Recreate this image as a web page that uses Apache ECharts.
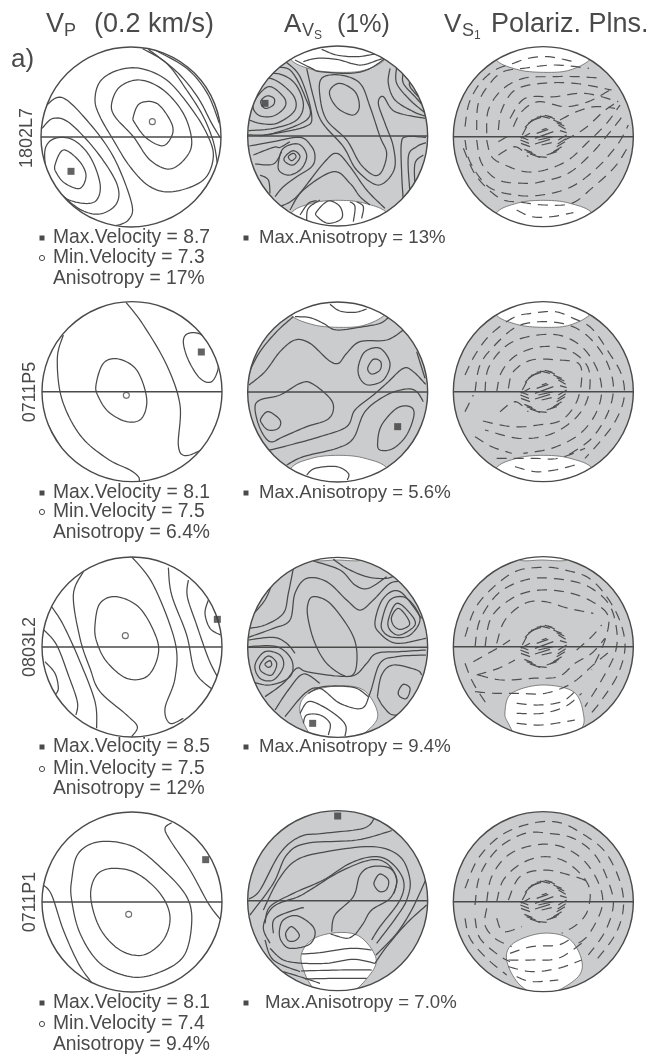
<!DOCTYPE html>
<html>
<head>
<meta charset="utf-8">
<title>Seismic anisotropy stereonets</title>
<script src="https://cdn.jsdelivr.net/npm/echarts@6/dist/echarts.min.js"></script>
<style>
  html, body { margin: 0; padding: 0; background: #fff; }
  #chart { width: 663px; height: 1054px; }
</style>
</head>
<body>
<div id="chart"></div>
<script>
const vp1802 = [
  [[465,150],[560,205],[622,280],[658,370]],
  [[445,148],[530,215],[592,290],[635,370],[662,415]],
  [[428,146],[500,190],[560,270],[610,350],[640,425],[652,490]],
  [[285,300],[300,245],[350,212],[420,205],[500,240],[570,320],[620,400],[640,470],[610,540],[520,575],[450,560],[390,500],[340,420],[300,350],[285,300]],
  [[335,310],[360,260],[420,240],[490,270],[550,340],[575,420],[560,470],[510,507],[450,480],[400,410],[345,350],[335,310]],
  [[400,350],[420,310],[470,310],[510,360],[518,400],[490,437],[440,415],[405,370],[400,350]],
  [[165,495],[190,450],[235,480],[258,525],[240,565],[195,550],[170,520],[165,495]],
  [[135,450],[165,415],[220,420],[270,470],[300,550],[290,600],[250,610],[190,590],[145,530],[135,450]],
  [[126,385],[160,355],[210,370],[290,455],[350,550],[350,610],[300,642],[240,628],[180,580]],
  [[135,320],[185,292],[260,360],[340,470],[395,610],[385,660],[345,678]]
];
const vp0711P5 = [
  [[378,22],[430,90],[500,210],[540,330],[535,450],[555,482],[605,465]],
  [[550,140],[565,115],[605,120],[640,170],[655,215],[635,260],[600,250],[565,195],[550,140]],
  [[288,270],[310,205],[355,192],[410,225],[440,310],[425,370],[380,380],[325,350],[295,305],[288,270]],
  [[190,120],[172,190],[185,310],[240,420],[320,490],[390,525],[415,545],[418,558]],
  [[130,360],[155,410],[185,460]]
];
const vp0803 = [
  [[395,35],[460,120],[525,290],[525,400],[495,490],[510,535],[550,520]],
  [[505,68],[515,150],[560,270],[585,380],[635,432]],
  [[565,105],[562,155],[590,240],[625,340],[652,395]],
  [[625,165],[615,205],[630,250],[662,270]],
  [[285,240],[300,175],[350,155],[420,190],[470,280],[472,340],[440,395],[380,400],[320,350],[290,290],[285,240]],
  [[250,80],[220,150],[240,280],[270,370],[300,440],[380,510],[412,545],[395,575]],
  [[155,185],[190,240],[240,350],[285,470],[290,550]],
  [[132,255],[170,300],[205,390],[232,470],[228,510]],
  [[135,350],[165,385],[175,430],[165,450]]
];
const vp0711P1 = [
  [[515,68],[495,85],[510,120],[570,210],[625,310],[660,357]],
  [[272,290],[290,225],[340,205],[410,220],[480,280],[510,350],[490,420],[430,465],[360,450],[300,385],[272,290]],
  [[215,240],[235,160],[300,125],[400,140],[490,210],[560,290],[575,370],[550,470],[470,520],[390,530],[300,490],[240,400],[215,300],[215,240]],
  [[130,255],[155,285],[190,390],[235,490],[275,548]]
];

const av1802 = [
  [[245,28],[290,45],[350,50],[405,42]],
  [[190,65],[230,55],[290,58],[360,75],[415,60],[430,55]],
  [[432,58],[385,88],[330,100],[240,95],[215,85],[165,60]],
  [[270,150],[300,130],[345,155],[358,200],[340,225],[300,210],[275,180],[270,150]],
  [[245,115],[300,105],[360,130],[390,200],[420,290],[440,340],[425,395],[400,405],[360,370],[320,300],[260,240],[240,170],[245,115]],
  [[200,85],[220,170],[245,245],[310,320],[350,390],[415,435],[462,390],[460,320],[435,250],[415,190],[430,170],[465,215],[555,235]],
  [[450,85],[445,130],[465,180],[520,215],[555,228]],
  [[470,80],[470,130],[510,180],[555,218]],
  [[490,95],[490,130],[525,170],[552,200]],
  [[510,120],[510,140],[535,170]],
  [[62,185],[80,168],[102,175],[100,195],[75,205],[62,185]],
  [[40,190],[85,140],[130,170],[135,200],[100,228],[55,225],[40,190]],
  [[35,175],[85,115],[155,160],[165,210],[110,250],[60,250],[28,240]],
  [[60,135],[100,100],[160,125],[190,190],[170,240],[100,265],[25,272]],
  [[95,85],[150,90],[195,170],[205,235],[100,280],[24,285]],
  [[130,60],[180,110],[215,225],[190,262],[60,288]],
  [[145,350],[160,340],[168,350],[155,362],[145,350]],
  [[135,350],[160,332],[180,350],[160,375],[135,365],[135,350]],
  [[115,370],[130,325],[175,312],[200,345],[185,385],[150,405],[120,395],[115,370]],
  [[28,318],[100,305],[180,292],[215,320],[225,350],[215,380],[170,410],[130,440],[105,470]],
  [[40,345],[100,322],[120,322],[150,305]],
  [[45,372],[100,372],[125,335]],
  [[60,405],[85,420],[90,460]],
  [[120,500],[170,470],[250,370],[290,340],[330,380],[380,450],[435,505]],
  [[150,510],[190,450],[280,395],[330,430],[360,470],[390,495]],
  [[558,292],[500,290],[484,310],[485,400],[490,485]],
  [[510,460],[505,350],[530,320],[558,308]],
  [[525,440],[525,370],[550,345]],
  [[230,515],[265,483],[300,500],[305,535],[265,550],[232,530],[230,515]],
  [[200,540],[205,505],[240,480]],
  [[180,525],[205,490],[230,482]],
  [[340,545],[345,500],[330,485]],
  [[365,535],[370,500],[350,485]]
];
const av0711P5 = [
  [[270,28],[300,48],[345,52],[380,42]],
  [[165,65],[210,68],[250,85],[290,105],[370,95],[420,85],[445,68]],
  [[27,232],[60,170],[110,110],[160,65]],
  [[27,270],[75,230],[120,170],[165,135],[210,145],[265,195],[295,205],[320,175],[360,140],[440,135],[490,105]],
  [[355,215],[375,170],[420,160],[450,205],[430,255],[385,270],[360,250],[355,215]],
  [[383,220],[400,193],[422,200],[420,225],[395,237],[383,220]],
  [[45,340],[60,315],[120,300],[180,265],[215,265],[270,310],[280,345],[260,375],[200,395],[130,425],[90,440],[60,400],[45,340]],
  [[63,370],[85,350],[120,375],[115,400],[85,405],[65,385],[63,370]],
  [[70,470],[150,450],[240,425],[320,395],[345,345],[400,300],[440,265],[490,220],[520,230],[557,268]],
  [[140,510],[190,485],[290,460],[340,430],[375,350],[440,300],[500,282],[530,290],[550,320]],
  [[413,440],[425,390],[470,340],[510,335],[522,360],[500,420],[460,460],[420,465],[413,440]],
  [[200,540],[225,520],[290,515],[325,535],[322,555]],
  [[530,170],[555,250]]
];
const av0803 = [
  [[203,165],[220,140],[270,160],[330,240],[350,300],[345,365],[315,378],[260,340],[225,280],[205,210],[203,165]],
  [[220,33],[300,60],[345,105],[385,115],[440,80]],
  [[280,28],[320,55],[380,80],[440,85],[478,70]],
  [[100,90],[75,150],[28,205]],
  [[160,55],[145,130],[130,190],[75,225],[25,235]],
  [[25,262],[100,235],[150,210],[165,130],[200,85],[260,95],[320,150],[360,180],[400,150],[450,100],[490,95]],
  [[455,200],[475,175],[500,200],[508,225],[480,238],[460,225],[455,200]],
  [[445,210],[470,160],[510,190],[525,225],[480,255],[450,240],[445,210]],
  [[425,215],[450,150],[500,145],[540,205],[510,255],[460,262],[430,245],[425,215]],
  [[558,265],[470,280],[420,250],[405,215],[430,145],[480,125],[545,205]],
  [[75,342],[90,332],[95,345],[85,352],[75,342]],
  [[60,345],[85,318],[110,340],[95,375],[65,365],[60,345]],
  [[45,345],[75,305],[120,315],[130,350],[100,390],[60,385],[45,345]],
  [[25,290],[110,290],[155,330],[150,380],[90,405],[35,395]],
  [[25,270],[100,262],[140,280],[165,310]],
  [[75,440],[130,400],[170,355],[200,365],[290,378],[345,375],[380,340],[410,310],[480,305],[558,300]],
  [[105,480],[145,420],[190,372],[240,400]],
  [[135,500],[195,430],[240,415],[300,460],[365,475],[390,430],[420,340],[470,320],[558,315]],
  [[412,440],[425,375],[460,345],[530,360],[545,375]],
  [[412,440],[430,470],[460,495],[510,480]],
  [[475,425],[490,403],[510,415],[500,445],[480,440],[475,425]],
  [[190,520],[200,495],[240,495],[270,520],[265,555]],
  [[180,490],[205,455],[250,470],[300,505],[318,530],[315,558]],
  [[205,430],[250,410],[340,412],[385,440]]
];
const av0711P1 = [
  [[27,297],[60,270],[120,160],[180,110],[250,100],[370,85],[403,55]],
  [[30,345],[100,250],[140,165],[200,130],[350,120],[455,92]],
  [[70,330],[115,240],[170,180],[260,155],[400,140],[480,170],[510,240],[500,300],[470,350],[410,430]],
  [[75,370],[90,320],[160,280],[250,240],[330,190],[400,170],[450,185],[490,240],[480,300],[420,380],[395,420]],
  [[90,430],[70,380],[100,320],[175,290],[210,270],[300,215],[390,180],[440,190],[470,235],[462,280]],
  [[275,395],[285,345],[340,290],[360,225],[395,200],[450,205],[470,245],[450,295],[395,330],[370,370],[345,405]],
  [[403,245],[420,222],[445,240],[440,268],[420,275],[405,260],[403,245]],
  [[137,400],[155,380],[178,405],[165,422],[145,422],[137,400]],
  [[118,395],[130,360],[170,347],[215,375],[225,405],[205,435],[150,445],[125,425],[118,395]],
  [[100,400],[105,355],[180,325],[190,325]],
  [[557,240],[515,330],[470,400],[408,465]],
  [[560,315],[500,370],[440,440],[405,490]],
  [[90,445],[130,480],[185,490]],
  [[75,420],[100,480],[180,515]],
  [[130,515],[195,535],[240,550]],
  [[185,462],[240,458],[330,445],[395,450]],
  [[183,490],[260,490],[340,478],[405,490]],
  [[183,513],[300,510],[395,510]],
  [[195,537],[285,535],[380,535]],
  [[272,402],[320,415],[345,403]]
];

const pol1802 = [
  [[60,260],[72,190],[105,130],[150,90],[205,70],[250,55],[310,50],[390,66]],
  [[95,270],[100,190],[135,130],[175,95],[235,85],[330,75],[432,85]],
  [[125,280],[130,210],[170,150],[235,115],[320,110],[400,110],[470,115]],
  [[160,270],[170,210],[210,150],[290,130],[390,130],[500,150]],
  [[195,235],[240,175],[330,170],[420,160],[520,185]],
  [[205,260],[230,215],[280,185],[360,200],[430,185],[495,150]],
  [[125,300],[140,350],[180,375],[240,395],[300,390],[370,360],[430,305],[485,250],[525,195]],
  [[95,300],[110,370],[160,420],[240,430],[290,425],[370,400],[440,340],[500,270],[535,225]],
  [[60,300],[75,365],[130,440],[210,465],[290,465],[380,440],[460,380],[520,310],[550,255]],
  [[55,325],[95,410],[165,475],[230,487],[300,495],[380,490],[440,445],[510,380],[555,310]],
  [[215,510],[260,530],[320,530],[385,518]],
  [[160,345],[210,320],[250,350]],
  [[360,300],[420,265],[475,215],[510,190]],
  [[345,240],[395,215],[450,200],[510,205]],
  [[160,305],[195,285]]
];
const pol0711P5 = [
  [[60,240],[90,180],[135,120],[205,68],[260,55],[330,50],[385,70],[440,100],[490,170],[530,240],[537,310],[510,380],[465,440],[420,490]],
  [[90,290],[105,210],[150,150],[215,95],[290,80],[370,90],[430,125],[480,190],[505,270],[490,350],[440,430],[370,480]],
  [[120,290],[130,220],[180,155],[250,125],[340,120],[410,155],[455,220],[470,290],[450,360],[400,420],[320,460],[235,475]],
  [[155,290],[170,230],[215,180],[290,155],[370,165],[425,210],[435,270],[420,330],[380,380],[310,420],[220,430],[120,405]],
  [[190,280],[205,230],[260,195],[340,195],[400,205],[410,250],[395,320],[350,375],[280,390],[200,395],[100,375]],
  [[60,350],[85,300]],
  [[165,350],[210,320],[250,350]],
  [[90,425],[140,455],[200,475]],
  [[155,490],[210,490],[270,490],[340,490],[420,460]],
  [[210,515],[270,530],[330,525],[390,510]]
];
const pol0803 = [
  [[60,260],[100,160],[200,70],[290,52],[360,60],[440,90],[510,180],[540,280],[520,370],[470,450],[430,500]],
  [[90,290],[105,210],[160,130],[240,90],[320,85],[420,105],[490,160],[515,240],[510,310],[470,390],[420,470]],
  [[120,290],[140,200],[210,140],[290,120],[380,130],[450,160],[490,200],[480,270],[440,360]],
  [[155,280],[180,210],[240,160],[300,155],[370,175],[445,190]],
  [[85,335],[130,310],[165,290],[195,270]],
  [[95,375],[160,355],[210,330]],
  [[100,375],[170,390],[260,385],[340,380],[390,340],[440,310],[480,265]],
  [[90,425],[150,430],[220,430],[300,430],[380,400],[450,340],[500,300]],
  [[60,340],[85,400],[130,470]],
  [[395,300],[440,260],[470,225]],
  [[215,460],[280,465],[350,455],[395,420]],
  [[215,490],[290,490],[360,470],[410,430]],
  [[215,520],[290,525],[390,510]]
];
const pol0711P1 = [
  [[60,250],[100,160],[170,90],[260,55],[340,52],[410,85],[480,140],[525,230],[535,310],[510,390],[450,470]],
  [[90,300],[105,210],[160,130],[240,85],[310,85],[385,100],[450,150],[490,230],[505,300],[480,380],[430,450]],
  [[125,290],[140,215],[190,150],[270,120],[350,125],[420,170],[465,245],[470,310],[430,390],[390,420]],
  [[155,290],[175,225],[230,175],[300,155],[370,175],[430,240],[430,310],[400,355],[350,385]],
  [[190,285],[225,215],[300,195],[390,215],[430,230]],
  [[60,340],[75,400],[125,460],[185,510]],
  [[90,340],[105,400],[160,450],[195,470]],
  [[125,310],[120,360],[150,400],[200,425]],
  [[155,340],[175,380],[230,365]],
  [[195,445],[260,425],[340,420],[385,395]],
  [[190,465],[260,465],[340,460],[410,415]],
  [[190,485],[260,500],[340,490],[410,465]],
  [[215,515],[260,530],[340,525]]
];
// tight hatch around the vertical axis, same in all four nets
const polHatch = [
  [[232,285],[245,260]],[[240,262],[262,240]],[[250,250],[275,235]],[[258,242],[288,232]],[[275,232],[300,228]],[[285,228],[315,235]],
  [[300,226],[322,232]],[[310,228],[330,238]],[[325,240],[350,250]],[[335,248],[358,258]],[[340,255],[362,268]],[[340,300],[365,285]],
  [[338,312],[362,296]],[[335,320],[360,305]],[[325,335],[350,320]],[[315,342],[342,328]],[[305,345],[335,335]],[[280,350],[305,352]],
  [[225,290],[250,300]],[[226,300],[252,310]],[[228,310],[255,320]],[[238,328],[262,338]],[[245,335],[272,345]],[[255,342],[285,352]],
  [[228,295],[255,280]],[[345,272],[365,278]],[[275,280],[310,268]],[[270,295],[325,275]],
  [[280,300],[325,290]],[[270,312],[315,298]],[[290,315],[320,308]],[[290,270],[305,265]]
];

const whiteTop = [[150,55],[215,88],[295,97],[375,90],[442,50],[440,-20],[150,-20]];
const whiteBottom = [[150,525],[215,490],[295,481],[375,490],[445,525],[445,620],[150,620]];
const whiteEll0803Av = [[180,485],[205,430],[290,408],[370,420],[412,485],[395,530],[320,580],[230,575]];
const whiteEll0711Av = [[183,480],[215,420],[290,398],[360,410],[408,475],[385,530],[320,585],[230,575]];
const whiteEll0803Pol = [[180,485],[200,430],[290,405],[385,425],[415,490],[405,540],[320,585],[230,575],[190,520]];
const whiteEll0711Pol = [[185,465],[205,415],[290,385],[370,400],[410,465],[395,520],[300,570],[225,540]];
const whiteSliver = [[225,30],[290,30],[365,30],[365,-5],[225,-5]];

const maxPoints = {
  vp: [[213,514],[604,171],[652,223],[617,179]],
  av: [[75,190],[473,395],[218,520],[293,48]]
};
const minPoints = [[457,365],[379,301],[376,272],[386,343]];
const sampleNames = ["1802L7", "0711P5", "0803L2", "0711P1"];
const vpMax = ["8.7", "8.1", "8.5", "8.1"];
const vpMin = ["7.3", "7.5", "7.5", "7.4"];
const vpAniso = ["17%", "6.4%", "12%", "9.4%"];
const avMax = ["13%", "5.6%", "9.4%", "7.0%"];

const INK = "#4a4a4a";
const GREY = "#cbcccd";
const FONT = '"Liberation Sans", Arial, sans-serif';

// crop = page rectangle of the net, c = centre in net units, radius is always 270
const panels = [
  { crop: [0, 0, 240, 295], c: [393, 411], lines: vp1802 },
  { crop: [240, 40, 200, 200], c: [293, 288], fill: true, white: [whiteTop, whiteBottom], lines: av1802 },
  { crop: [445, 40, 200, 200], c: [295, 290], fill: true, white: [whiteTop, whiteBottom], dashes: pol1802 },
  { crop: [0, 295, 240, 250], c: [396, 290], lines: vp0711P5 },
  { crop: [240, 295, 200, 200], c: [293, 291], fill: true, white: [whiteTop, whiteBottom], lines: av0711P5 },
  { crop: [445, 295, 200, 200], c: [295, 290], fill: true, white: [whiteTop, whiteBottom], dashes: pol0711P5 },
  { crop: [0, 545, 240, 255], c: [396, 306], lines: vp0803 },
  { crop: [240, 550, 200, 200], c: [293, 292], fill: true, white: [whiteEll0803Av, whiteSliver], lines: av0803 },
  { crop: [445, 550, 200, 200], c: [295, 290], fill: true, white: [whiteEll0803Pol, whiteSliver], dashes: pol0803 },
  { crop: [0, 800, 240, 254], c: [396, 306], lines: vp0711P1 },
  { crop: [240, 800, 200, 200], c: [293, 302], fill: true, white: [whiteEll0711Av], lines: av0711P1 },
  { crop: [445, 805, 200, 200], c: [295, 290], fill: true, white: [whiteEll0711Pol], dashes: pol0711P1 }
];
panels.forEach((p, i) => {
  const row = Math.floor(i / 3);
  if (i % 3 === 0) { p.maxPt = maxPoints.vp[row]; p.minPt = minPoints[row]; }
  if (i % 3 === 1) { p.maxPt = maxPoints.av[row]; }
});

// catmull-rom through the pixel points, only to draw the read points as a curve
function spline(pts, closed) {
  const n = pts.length, out = [];
  const at = i => closed ? pts[(i + n) % n] : pts[Math.max(0, Math.min(n - 1, i))];
  const last = closed ? n : n - 1;
  for (let i = 0; i < last; i++) {
    const p0 = at(i - 1), p1 = at(i), p2 = at(i + 1), p3 = at(i + 2);
    for (let k = 0; k < 10; k++) {
      const t = k / 10, t2 = t * t, t3 = t2 * t;
      out.push([0, 1].map(d => 0.5 * (2 * p1[d] + (p2[d] - p0[d]) * t +
        (2 * p0[d] - 5 * p1[d] + 4 * p2[d] - p3[d]) * t2 + (3 * p1[d] - p0[d] - 3 * p2[d] + p3[d]) * t3)));
    }
  }
  if (!closed) out.push(pts[n - 1]);
  return out;
}

function shapeSeries(gridIndex, panel, shapes, style, curved) {
  return {
    type: "custom",
    coordinateSystem: "cartesian2d",
    xAxisIndex: gridIndex,
    yAxisIndex: gridIndex,
    silent: true,
    data: shapes.map((_, i) => [i]),
    renderItem(params, api) {
      const pts = shapes[api.value(0)];
      let points = pts.map(pt => api.coord(pt));
      const loop = pts[0][0] === pts[pts.length - 1][0] && pts[0][1] === pts[pts.length - 1][1];
      const closed = style.fill !== "none" || loop;
      if (loop) points = points.slice(0, -1);
      if (curved) points = spline(points, closed);
      const c = api.coord(panel.c);
      return {
        type: closed ? "polygon" : "polyline",
        shape: { points: points },
        style: Object.assign({}, style),
        clipPath: { type: "circle", shape: { cx: c[0], cy: c[1], r: api.size([270, 0])[0] } }
      };
    }
  };
}

function discSeries(gridIndex, p, fill, stroke) {
  return {
    type: "custom",
    coordinateSystem: "cartesian2d",
    xAxisIndex: gridIndex,
    yAxisIndex: gridIndex,
    silent: true,
    data: [[p.c[0], p.c[1]]],
    renderItem(params, api) {
      const c = api.coord([api.value(0), api.value(1)]);
      return {
        type: "circle",
        shape: { cx: c[0], cy: c[1], r: api.size([270, 0])[0] },
        style: { fill: fill, stroke: stroke, lineWidth: 1.4 }
      };
    }
  };
}

const grid = [], xAxis = [], yAxis = [], series = [];
panels.forEach((p, i) => {
  const [x, y, w, h] = p.crop;
  grid.push({ left: x, top: y, width: w, height: h, show: false });
  xAxis.push({ type: "value", gridIndex: i, min: 0, max: w * 3, show: false });
  yAxis.push({ type: "value", gridIndex: i, min: 0, max: h * 3, inverse: true, show: false });
  if (p.fill) series.push(discSeries(i, p, GREY, "none"));
  if (p.white) series.push(shapeSeries(i, p, p.white, { fill: "#fff", stroke: "#666", lineWidth: 0.8 }, true));
  if (p.lines) series.push(shapeSeries(i, p, p.lines, { fill: "none", stroke: INK, lineWidth: 1.25 }, true));
  if (p.dashes) {
    series.push(shapeSeries(i, p, p.dashes, { fill: "none", stroke: "#505050", lineWidth: 1.2, lineDash: [10, 7] }, true));
    series.push(shapeSeries(i, p, polHatch, { fill: "none", stroke: "#505050", lineWidth: 1.2 }, false));
  }
  series.push({
    type: "line", xAxisIndex: i, yAxisIndex: i, silent: true, symbol: "none",
    lineStyle: { color: INK, width: 1.5 },
    data: [[p.c[0] - 270, p.c[1]], [p.c[0] + 270, p.c[1]]]
  });
  series.push(discSeries(i, p, "none", INK));
  if (p.maxPt) series.push({
    type: "scatter", xAxisIndex: i, yAxisIndex: i, silent: true, symbol: "rect", symbolSize: 7,
    itemStyle: { color: "#3c3c3c" }, data: [p.maxPt]
  });
  if (p.minPt) series.push({
    type: "scatter", xAxisIndex: i, yAxisIndex: i, silent: true, symbol: "circle", symbolSize: 6,
    itemStyle: { color: "#fff", borderColor: INK, borderWidth: 1.1 }, data: [p.minPt]
  });
});

function label(text, x, y, size, extra) {
  return Object.assign({
    type: "text", x: x, y: y, silent: true, z: 100,
    style: {
      text: text, fill: "#4a4a4a", font: size + "px " + FONT,
      verticalAlign: "middle", align: "left"
    }
  }, extra || {});
}
function bullet(x, y, round) {
  return round
    ? { type: "circle", silent: true, z: 100, shape: { cx: x, cy: y, r: 2.6 }, style: { fill: "#fff", stroke: INK, lineWidth: 1 } }
    : { type: "rect", silent: true, z: 100, shape: { x: x - 2.5, y: y - 2.5, width: 5, height: 5 }, style: { fill: INK } };
}

const graphics = [
  label("V", 46, 25, 27), label("P", 64, 31, 18), label("(0.2 km/s)", 94, 25, 27),
  label("A", 284, 25, 26), label("V", 302, 31, 18), label("S", 314, 36, 12), label("(1%)", 337, 25, 25),
  label("V", 444, 25, 26), label("S", 462, 31, 18), label("1", 474, 36, 12), label("Polariz. Plns.", 491, 25, 27),
  label("a)", 11, 60, 26)
];
const labelRows = [[238, 258, 279], [493, 512, 533], [747, 769, 789], [1003, 1024, 1045]];
const nameCentres = [[27, 138], [30, 392], [30, 647], [30, 902]];
sampleNames.forEach((name, r) => {
  const [y1, y2, y3] = labelRows[r];
  graphics.push(label("Max.Velocity = " + vpMax[r], 53, y1, 19.3), bullet(42, y1, false));
  graphics.push(label("Min.Velocity = " + vpMin[r], 53, y2, 19.3), bullet(42, y2, true));
  graphics.push(label("Anisotropy = " + vpAniso[r], 53, y3, 19.3));
  graphics.push(label("Max.Anisotropy = " + avMax[r], r === 3 ? 265 : 259, y1, 18.6), bullet(246, y1, false));
  const [nx, ny] = nameCentres[r];
  const t = label(name, nx, ny, 18, { rotation: Math.PI / 2 });
  t.style.align = "center";
  graphics.push(t);
});

const chart = echarts.init(document.getElementById("chart"), null, { renderer: "canvas" });
chart.setOption({
  animation: false,
  backgroundColor: "#fff",
  grid: grid,
  xAxis: xAxis,
  yAxis: yAxis,
  series: series,
  graphic: { elements: graphics }
});
</script>
</body>
</html>
